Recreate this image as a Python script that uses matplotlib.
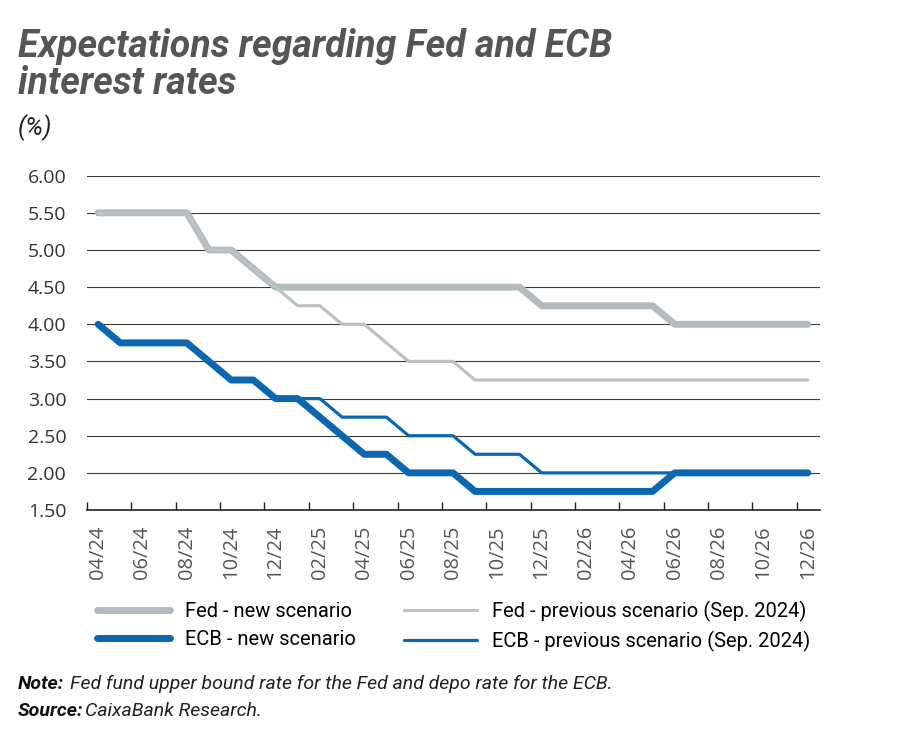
import matplotlib
matplotlib.use("Agg")
import matplotlib.pyplot as plt
import numpy as np

# monthly data 04/24 .. 12/26
months = ["04/24", "05/24", "06/24", "07/24", "08/24", "09/24", "10/24", "11/24", "12/24",
          "01/25", "02/25", "03/25", "04/25", "05/25", "06/25", "07/25", "08/25", "09/25",
          "10/25", "11/25", "12/25", "01/26", "02/26", "03/26", "04/26", "05/26", "06/26",
          "07/26", "08/26", "09/26", "10/26", "11/26", "12/26"]

fed_new = [5.50, 5.50, 5.50, 5.50, 5.50, 5.00, 5.00, 4.75, 4.50,
           4.50, 4.50, 4.50, 4.50, 4.50, 4.50, 4.50, 4.50, 4.50,
           4.50, 4.50, 4.25, 4.25, 4.25, 4.25, 4.25, 4.25, 4.00,
           4.00, 4.00, 4.00, 4.00, 4.00, 4.00]
fed_prev = [5.50, 5.50, 5.50, 5.50, 5.50, 5.00, 5.00, 4.75, 4.50,
            4.25, 4.25, 4.00, 4.00, 3.75, 3.50, 3.50, 3.50, 3.25,
            3.25, 3.25, 3.25, 3.25, 3.25, 3.25, 3.25, 3.25, 3.25,
            3.25, 3.25, 3.25, 3.25, 3.25, 3.25]
ecb_new = [4.00, 3.75, 3.75, 3.75, 3.75, 3.50, 3.25, 3.25, 3.00,
           3.00, 2.75, 2.50, 2.25, 2.25, 2.00, 2.00, 2.00, 1.75,
           1.75, 1.75, 1.75, 1.75, 1.75, 1.75, 1.75, 1.75, 2.00,
           2.00, 2.00, 2.00, 2.00, 2.00, 2.00]
ecb_prev = [4.00, 3.75, 3.75, 3.75, 3.75, 3.50, 3.25, 3.25, 3.00,
            3.00, 3.00, 2.75, 2.75, 2.75, 2.50, 2.50, 2.50, 2.25,
            2.25, 2.25, 2.00, 2.00, 2.00, 2.00, 2.00, 2.00, 2.00,
            2.00, 2.00, 2.00, 2.00, 2.00, 2.00]

yticks = [1.50, 2.00, 2.50, 3.00, 3.50, 4.00, 4.50, 5.00, 5.50, 6.00]

gray_thick = "#b3bbbe"
gray_thin = "#bcc2c5"
blue = "#0b68b0"

plt.rcParams['font.family'] = ['Open Sans', 'DejaVu Sans']
narrow = ['Roboto', 'DejaVu Sans']

fig = plt.figure(figsize=(9, 7.5), dpi=100)
ax = fig.add_axes([0.0967, 0.32, 0.8144, 0.4457])

x = np.arange(len(months))

ax.plot(x, fed_prev, color=gray_thin, lw=2.3, solid_capstyle='round', solid_joinstyle='round',
        label="Fed - previous scenario (Sep. 2024)", zorder=3)
ax.plot(x, fed_new, color=gray_thick, lw=5, solid_capstyle='round', solid_joinstyle='round',
        label="Fed - new scenario", zorder=2)
ax.plot(x, ecb_prev, color=blue, lw=2.3, solid_capstyle='round', solid_joinstyle='round',
        label="ECB - previous scenario (Sep. 2024)", zorder=4)
ax.plot(x, ecb_new, color=blue, lw=5, solid_capstyle='round', solid_joinstyle='round',
        label="ECB - new scenario", zorder=3)

ax.set_xlim(-0.5, 32.55)
ax.set_ylim(1.5, 6.0)

for v in yticks[1:]:
    ax.axhline(v, color="#3a3a3a", lw=0.8, zorder=1)

ax.set_yticks(yticks)
ax.set_yticklabels([f"{v:.2f}" for v in yticks], fontsize=14, color="#333333")
ax.tick_params(axis='y', length=0, pad=15)

ax.set_xticks(x[::2])
ax.set_xticklabels(months[::2], rotation=90, fontsize=14.5, color="#555555")
ax.set_xticks(np.arange(-0.5, 32, 2), minor=True)
ax.tick_params(axis='x', which='major', length=0, pad=11)
ax.tick_params(axis='x', which='minor', direction='in', length=6, width=1, color="#222222")

for s in ['top', 'right', 'left']:
    ax.spines[s].set_visible(False)
ax.spines['bottom'].set_color("#222222")
ax.spines['bottom'].set_linewidth(1.2)

handles, labels = ax.get_legend_handles_labels()
order = [1, 3, 0, 2]
leg = fig.legend([handles[i] for i in order], [labels[i] for i in order],
                 loc='upper left', bbox_to_anchor=(0.108, 0.199), ncol=2, frameon=False,
                 prop={'family': narrow, 'size': 14.5}, handlelength=3.6, handletextpad=0.75,
                 columnspacing=2.4, labelspacing=0.45, borderaxespad=0, borderpad=0)
for h in leg.get_lines():
    h.set_solid_capstyle('round')

fig.text(0.02, 0.963, "Expectations regarding Fed and ECB\ninterest rates", fontsize=27,
         fontweight='bold', fontstyle='italic', color="#555555", family=narrow,
         va='top', ha='left', linespacing=1.0)
fig.text(0.02, 0.83, "(%)", fontsize=18, fontstyle='italic', color="#222222",
         family=narrow, va='center', ha='left')

# footnotes: bold label followed by italic text
renderer = fig.canvas.get_renderer()
notes = [("Note:", "Fed fund upper bound rate for the Fed and depo rate for the ECB.", 0.088, 0.006),
         ("Source:", "CaixaBank Research.", 0.052, 0.002)]
for head, body, yy, gap in notes:
    t = fig.text(0.02, yy, head, fontsize=14, fontweight='bold', fontstyle='italic',
                 family=narrow, color="#111111", va='center', ha='left')
    bb = t.get_window_extent(renderer=renderer)
    fig.text(bb.x1 / fig.bbox.width + gap, yy, body, fontsize=14, fontstyle='italic',
             family=narrow, color="#222222", va='center', ha='left')

fig.savefig("out.png", dpi=100)
